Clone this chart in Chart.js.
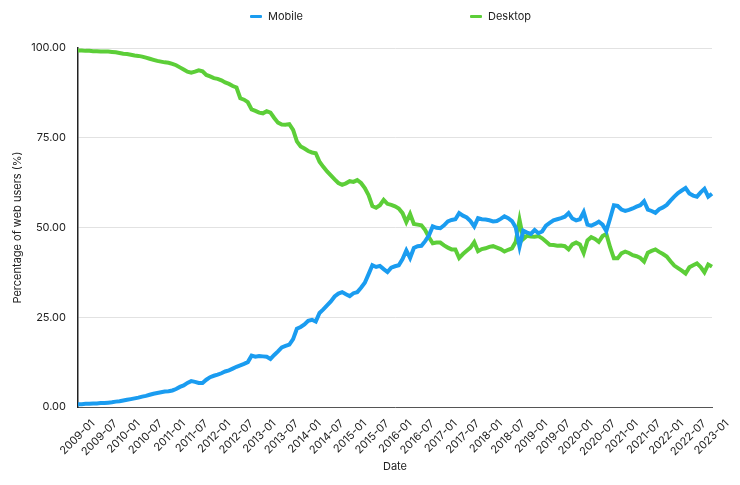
<!DOCTYPE html>
<html>
<head>
<meta charset="utf-8">
<script src="https://cdn.jsdelivr.net/npm/chart.js@4/dist/chart.umd.min.js"></script>
<style>
  html, body { margin: 0; padding: 0; background: #fff; }
  #wrap { position: relative; width: 740px; height: 485px; font-family: Inter, "Noto Sans", sans-serif; }
  .leg { position: absolute; top: 9px; display: flex; align-items: center; font-size: 11px; color: #222; }
  .leg i { display: inline-block; width: 12px; height: 3px; border-radius: 1px; margin-right: 6px; }
</style>
</head>
<body>
<div id="wrap">
  <div class="leg" style="left: 250px;"><i style="background:#1a9cf0"></i>Mobile</div>
  <div class="leg" style="left: 470px;"><i style="background:#5cce38"></i>Desktop</div>
  <canvas id="c" width="740" height="485"></canvas>
</div>
<script>
// monthly share, 2009-01 .. 2023-01
const years = [2009, 2010, 2011, 2012, 2013, 2014, 2015, 2016, 2017, 2018, 2019, 2020, 2021, 2022, 2023];
const monthNums = ['01', '02', '03', '04', '05', '06', '07', '08', '09', '10', '11', '12'];

const mobile = [
  0.8, 0.8, 0.9, 0.9, 1.0, 1.0, 1.1, 1.1, 1.2, 1.3, 1.5, 1.6,
  1.8, 2.0, 2.2, 2.4, 2.6, 2.9, 3.1, 3.4, 3.7, 3.9, 4.1, 4.3,
  4.4, 4.6, 5.0, 5.6, 6.0, 6.7, 7.2, 7.0, 6.7, 6.7, 7.6, 8.3,
  8.7, 9.0, 9.4, 9.9, 10.2, 10.7, 11.2, 11.6, 12.0, 12.5, 14.3, 14.0,
  14.2, 14.1, 14.0, 13.4, 14.5, 15.5, 16.6, 17.0, 17.4, 18.9, 21.8, 22.3,
  23.0, 24.0, 24.3, 23.8, 26.2, 27.2, 28.3, 29.4, 30.8, 31.6, 32.0, 31.4,
  30.9, 31.7, 32.0, 33.2, 34.6, 37.0, 39.5, 39.0, 39.3, 38.4, 37.6, 38.8,
  39.2, 39.5, 41.2, 43.6, 41.5, 44.3, 44.8, 44.9, 46.2, 47.8, 50.3, 49.9,
  49.8, 50.6, 51.7, 52.1, 52.3, 54.0, 53.3, 52.8, 51.8, 50.3, 52.6, 52.3,
  52.2, 52.0, 51.7, 51.8, 52.4, 53.1, 52.6, 51.8, 50.0, 44.7, 49.1, 48.6,
  48.2, 49.3, 48.4, 48.9, 50.5, 51.3, 52.0, 52.3, 52.6, 53.0, 54.0, 52.5,
  52.0, 52.3, 54.3, 50.8, 50.5, 51.0, 51.6, 50.8, 49.0, 52.5, 56.2, 56.0,
  55.0, 54.6, 54.9, 55.3, 55.8, 56.2, 57.3, 55.0, 54.6, 54.1, 55.1, 55.6,
  56.3, 57.5, 58.6, 59.6, 60.3, 61.0, 59.5, 58.9, 58.6, 59.8, 60.8, 58.6,
  59.4
];

const desktop = [
  99.3, 99.3, 99.2, 99.2, 99.1, 99.1, 99.0, 99.0, 99.0, 98.9, 98.8, 98.6,
  98.4, 98.3, 98.1, 97.9, 97.8, 97.6, 97.3, 97.0, 96.7, 96.4, 96.2, 96.0,
  95.9, 95.6, 95.2, 94.6, 94.0, 93.4, 93.1, 93.4, 93.8, 93.5, 92.5, 92.1,
  91.6, 91.4, 91.0, 90.4, 90.0, 89.4, 89.0, 86.0, 85.6, 84.9, 82.9, 82.5,
  82.0, 81.8, 82.4, 82.0, 80.5, 79.2, 78.7, 78.6, 78.8, 77.2, 74.0, 72.6,
  72.0, 71.3, 70.9, 70.7, 68.3, 66.9, 65.6, 64.5, 63.4, 62.4, 61.9, 62.3,
  62.9, 62.7, 63.2, 62.4, 61.0, 59.0, 56.0, 55.5, 56.2, 57.7, 56.6, 56.3,
  55.9, 55.3, 54.0, 51.5, 53.8, 51.0, 50.8, 50.6, 49.3, 47.3, 45.6, 45.8,
  45.8, 45.0, 44.4, 43.9, 43.9, 41.5, 42.6, 43.5, 44.4, 45.9, 43.4, 44.0,
  44.2, 44.6, 44.8, 44.4, 44.0, 43.3, 43.8, 44.2, 46.0, 52.1, 46.8, 47.7,
  47.5, 47.4, 47.6, 47.0, 46.1, 45.2, 45.1, 44.9, 45.0, 44.8, 43.9, 45.3,
  45.8, 45.3, 42.9, 46.4, 47.3, 46.8, 46.0, 47.6, 48.2, 44.5, 41.4, 41.4,
  42.8, 43.3, 42.9, 42.3, 42.0, 41.5, 40.5, 43.0, 43.5, 43.9, 43.2, 42.6,
  41.9, 40.6, 39.4, 38.7, 38.0, 37.2, 38.9, 39.5, 40.0, 39.0, 37.5, 39.7,
  39.1
];

const yTicks = [0, 25, 50, 75, 100];

const labels = [];
years.forEach(y => monthNums.forEach(m => labels.push(`${y}-${m}`)));
labels.length = mobile.length;

const tickFont = { family: 'Inter, "Noto Sans", sans-serif', size: 11 };

new Chart(document.getElementById('c'), {
    type: 'line',
    data: {
        labels: labels,
        datasets: [
            { label: 'Mobile', data: mobile, borderColor: '#1a9cf0', backgroundColor: '#1a9cf0', borderWidth: 4, pointRadius: 0, tension: 0 },
            { label: 'Desktop', data: desktop, borderColor: '#5cce38', backgroundColor: '#5cce38', borderWidth: 4, pointRadius: 0, tension: 0 }
        ]
    },
    options: {
        responsive: false,
        animation: false,
        layout: { padding: { left: 0, right: 28, top: 48, bottom: 0 } },
        plugins: { legend: { display: false }, tooltip: { enabled: false } },
        scales: {
            x: {
                grid: { display: false },
                border: { display: true, color: '#555', width: 1 },
                ticks: {
                    autoSkip: false,
                    minRotation: 45,
                    maxRotation: 45,
                    color: '#222',
                    font: tickFont,
                    padding: 2,
                    labelOffset: 15,
                    callback: (v, i) => (i % 6 === 0 ? labels[i] : null)
                },
                title: { display: true, text: 'Date', color: '#222', font: tickFont, padding: { top: 0, bottom: 12 } },
                afterFit: s => { s.height = 78; }
            },
            y: {
                min: 0,
                max: 100,
                afterBuildTicks: s => { s.ticks = yTicks.map(v => ({ value: v })); },
                grid: { color: '#e2e2e2', drawTicks: false },
                border: { display: true, color: '#222', width: 1.5 },
                ticks: { color: '#222', font: tickFont, padding: 12, callback: v => Number(v).toFixed(2) },
                title: { display: true, text: 'Percentage of web users (%)', color: '#222', font: tickFont, padding: { top: 11, bottom: 0 } },
                afterFit: s => { s.width = 78; }
            }
        }
    }
});
</script>
</body>
</html>
